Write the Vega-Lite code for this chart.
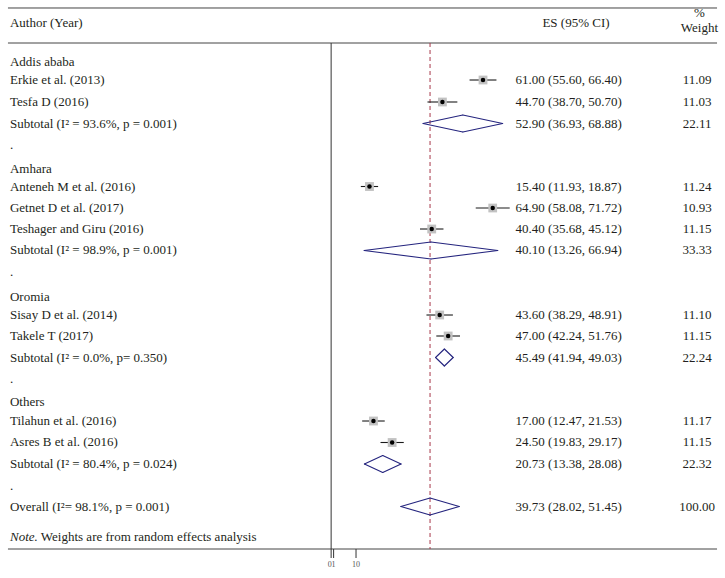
{
  "$schema": "https://vega.github.io/schema/vega-lite/v6.json",
  "autosize": {"type": "fit", "contains": "padding"},
  "width": 725,
  "height": 578,
  "padding": 0,
  "background": "white",
  "config": {"view": {"stroke": null}, "text": {"font": "Liberation Serif", "fontSize": 13, "color": "#231f20"}},
  "datasets": {
    "rows": [
      {"label": "Addis ababa", "row": 2.876, "type": "group"},
      {"label": "Erkie et al. (2013)", "row": 3.682, "type": "study", "es": 61.00, "lo": 55.60, "hi": 66.40, "w": 11.09, "ci": "61.00 (55.60, 66.40)"},
      {"label": "Tesfa D (2016)", "row": 4.694, "type": "study", "es": 44.70, "lo": 38.70, "hi": 50.70, "w": 11.03, "ci": "44.70 (38.70, 50.70)"},
      {"label": "Subtotal (I² = 93.6%, p = 0.001)", "row": 5.684, "type": "subtotal", "es": 52.90, "lo": 36.93, "hi": 68.88, "w": 22.11, "ci": "52.90 (36.93, 68.88)"},
      {"label": ".", "row": 6.673, "type": "gap"},
      {"label": "Amhara", "row": 7.755, "type": "group"},
      {"label": "Anteneh M et al. (2016)", "row": 8.583, "type": "study", "es": 15.40, "lo": 11.93, "hi": 18.87, "w": 11.24, "ci": "15.40 (11.93, 18.87)"},
      {"label": "Getnet D et al. (2017)", "row": 9.573, "type": "study", "es": 64.90, "lo": 58.08, "hi": 71.72, "w": 10.93, "ci": "64.90 (58.08, 71.72)"},
      {"label": "Teshager and Giru (2016)", "row": 10.539, "type": "study", "es": 40.40, "lo": 35.68, "hi": 45.12, "w": 11.15, "ci": "40.40 (35.68, 45.12)"},
      {"label": "Subtotal (I² = 98.9%, p = 0.001)", "row": 11.528, "type": "subtotal", "es": 40.10, "lo": 13.26, "hi": 66.94, "w": 33.33, "ci": "40.10 (13.26, 66.94)"},
      {"label": ".", "row": 12.518, "type": "gap"},
      {"label": "Oromia", "row": 13.691, "type": "group"},
      {"label": "Sisay D et al. (2014)", "row": 14.497, "type": "study", "es": 43.60, "lo": 38.29, "hi": 48.91, "w": 11.10, "ci": "43.60 (38.29, 48.91)"},
      {"label": "Takele T (2017)", "row": 15.463, "type": "study", "es": 47.00, "lo": 42.24, "hi": 51.76, "w": 11.15, "ci": "47.00 (42.24, 51.76)"},
      {"label": "Subtotal (I² = 0.0%, p= 0.350)", "row": 16.453, "type": "subtotal", "es": 45.49, "lo": 41.94, "hi": 49.03, "w": 22.24, "ci": "45.49 (41.94, 49.03)"},
      {"label": ".", "row": 17.442, "type": "gap"},
      {"label": "Others", "row": 18.501, "type": "group"},
      {"label": "Tilahun et al. (2016)", "row": 19.375, "type": "study", "es": 17.00, "lo": 12.47, "hi": 21.53, "w": 11.17, "ci": "17.00 (12.47, 21.53)"},
      {"label": "Asres B et al. (2016)", "row": 20.364, "type": "study", "es": 24.50, "lo": 19.83, "hi": 29.17, "w": 11.15, "ci": "24.50 (19.83, 29.17)"},
      {"label": "Subtotal (I² = 80.4%, p = 0.024)", "row": 21.354, "type": "subtotal", "es": 20.73, "lo": 13.38, "hi": 28.08, "w": 22.32, "ci": "20.73 (13.38, 28.08)"},
      {"label": ".", "row": 22.366, "type": "gap"},
      {"label": "Overall (I²= 98.1%, p = 0.001)", "row": 23.310, "type": "overall", "es": 39.73, "lo": 28.02, "hi": 51.45, "w": 100.00, "ci": "39.73 (28.02, 51.45)"}
    ],
    "headers": [
      {"text": "ES (95% CI)", "x": 98.35, "row": 1.058},
      {"text": "%", "x": 147.95, "row": 0.6},
      {"text": "Weight", "x": 147.95, "row": 1.275}
    ],
    "hlines": [{"row": 0.368}, {"row": 1.979}, {"row": 25.266}],
    "vlines": [
      {"x": 0, "y1": 1.979, "y2": 25.68},
      {"x": 1, "y1": 25.266, "y2": 25.68},
      {"x": 10, "y1": 25.266, "y2": 25.68}
    ],
    "ticklabels": [
      {"tick": 0, "text": "0"},
      {"tick": 1, "text": "1"},
      {"tick": 10, "text": "10"}
    ]
  },
  "layer": [
    {
      "data": {"name": "hlines"},
      "mark": {"type": "rule", "color": "#444", "strokeWidth": 1},
      "encoding": {
        "x": {"datum": -129.8, "type": "quantitative", "scale": {"domain": [-133, 158.2], "nice": false, "zero": false}, "axis": null},
        "x2": {"datum": 155.0},
        "y": {"field": "row", "type": "quantitative", "scale": {"domain": [0, 26.6], "nice": false, "zero": false, "reverse": true}, "axis": null}
      }
    },
    {
      "data": {"name": "vlines"},
      "mark": {"type": "rule", "color": "#333", "strokeWidth": 1},
      "encoding": {
        "x": {"field": "x", "type": "quantitative", "axis": null},
        "y": {"field": "y1", "type": "quantitative", "axis": null},
        "y2": {"field": "y2"}
      }
    },
    {
      "data": {"name": "rows"},
      "transform": [{"filter": "datum.type === 'overall'"}],
      "mark": {"type": "rule", "color": "#a8384a", "strokeWidth": 1, "strokeDash": [4, 3]},
      "encoding": {
        "x": {"field": "es", "type": "quantitative", "axis": null},
        "y": {"datum": 1.979, "type": "quantitative", "axis": null},
        "y2": {"datum": 25.266}
      }
    },
    {
      "data": {"name": "rows"},
      "transform": [{"filter": "datum.type === 'study'"}],
      "mark": {"type": "rule", "color": "#1a1a1a", "strokeWidth": 1.1},
      "encoding": {
        "x": {"field": "lo", "type": "quantitative", "axis": null},
        "x2": {"field": "hi"},
        "y": {"field": "row", "type": "quantitative", "axis": null}
      }
    },
    {
      "data": {"name": "rows"},
      "transform": [{"filter": "datum.type === 'study'"}],
      "mark": {"type": "point", "shape": "square", "filled": true, "color": "#c2c2c2", "opacity": 1},
      "encoding": {
        "x": {"field": "es", "type": "quantitative", "axis": null},
        "y": {"field": "row", "type": "quantitative", "axis": null},
        "size": {"field": "w", "type": "quantitative", "scale": {"domain": [0, 12], "range": [0, 84]}, "legend": null}
      }
    },
    {
      "data": {"name": "rows"},
      "transform": [{"filter": "datum.type === 'study'"}],
      "mark": {"type": "point", "shape": "circle", "filled": true, "color": "#000", "size": 20, "opacity": 1},
      "encoding": {
        "x": {"field": "es", "type": "quantitative", "axis": null},
        "y": {"field": "row", "type": "quantitative", "axis": null}
      }
    },
    {
      "data": {"name": "rows"},
      "transform": [{"filter": "datum.type === 'subtotal' || datum.type === 'overall'"}],
      "mark": {"type": "rule", "color": "#24247e", "strokeWidth": 1.1, "strokeCap": "round", "y2Offset": -8.5},
      "encoding": {
        "x": {"field": "lo", "type": "quantitative", "axis": null},
        "x2": {"field": "es"},
        "y": {"field": "row", "type": "quantitative", "axis": null},
        "y2": {"field": "row"}
      }
    },
    {
      "data": {"name": "rows"},
      "transform": [{"filter": "datum.type === 'subtotal' || datum.type === 'overall'"}],
      "mark": {"type": "rule", "color": "#24247e", "strokeWidth": 1.1, "strokeCap": "round", "yOffset": -8.5},
      "encoding": {
        "x": {"field": "es", "type": "quantitative", "axis": null},
        "x2": {"field": "hi"},
        "y": {"field": "row", "type": "quantitative", "axis": null},
        "y2": {"field": "row"}
      }
    },
    {
      "data": {"name": "rows"},
      "transform": [{"filter": "datum.type === 'subtotal' || datum.type === 'overall'"}],
      "mark": {"type": "rule", "color": "#24247e", "strokeWidth": 1.1, "strokeCap": "round", "y2Offset": 8.5},
      "encoding": {
        "x": {"field": "hi", "type": "quantitative", "axis": null},
        "x2": {"field": "es"},
        "y": {"field": "row", "type": "quantitative", "axis": null},
        "y2": {"field": "row"}
      }
    },
    {
      "data": {"name": "rows"},
      "transform": [{"filter": "datum.type === 'subtotal' || datum.type === 'overall'"}],
      "mark": {"type": "rule", "color": "#24247e", "strokeWidth": 1.1, "strokeCap": "round", "yOffset": 8.5},
      "encoding": {
        "x": {"field": "es", "type": "quantitative", "axis": null},
        "x2": {"field": "lo"},
        "y": {"field": "row", "type": "quantitative", "axis": null},
        "y2": {"field": "row"}
      }
    },
    {
      "data": {"name": "rows"},
      "mark": {"type": "text", "align": "left", "baseline": "middle"},
      "encoding": {
        "x": {"datum": -129, "type": "quantitative", "axis": null},
        "y": {"field": "row", "type": "quantitative", "axis": null},
        "text": {"field": "label"}
      }
    },
    {
      "data": {"values": [{"text": "Author (Year)", "row": 1.058}]},
      "mark": {"type": "text", "align": "left", "baseline": "middle"},
      "encoding": {
        "x": {"datum": -129, "type": "quantitative", "axis": null},
        "y": {"field": "row", "type": "quantitative", "axis": null},
        "text": {"field": "text"}
      }
    },
    {
      "data": {"values": [{"text": "Note.", "row": 24.714}]},
      "mark": {"type": "text", "align": "left", "baseline": "middle", "fontStyle": "italic"},
      "encoding": {
        "x": {"datum": -129, "type": "quantitative", "axis": null},
        "y": {"field": "row", "type": "quantitative", "axis": null},
        "text": {"field": "text"}
      }
    },
    {
      "data": {"values": [{"text": "Weights are from random effects analysis", "row": 24.714}]},
      "mark": {"type": "text", "align": "left", "baseline": "middle"},
      "encoding": {
        "x": {"datum": -116.6, "type": "quantitative", "axis": null},
        "y": {"field": "row", "type": "quantitative", "axis": null},
        "text": {"field": "text"}
      }
    },
    {
      "data": {"name": "rows"},
      "transform": [{"filter": "isValid(datum.ci)"}],
      "mark": {"type": "text", "align": "center", "baseline": "middle"},
      "encoding": {
        "x": {"datum": 95.4, "type": "quantitative", "axis": null},
        "y": {"field": "row", "type": "quantitative", "axis": null},
        "text": {"field": "ci"}
      }
    },
    {
      "data": {"name": "rows"},
      "transform": [{"filter": "isValid(datum.w)"}],
      "mark": {"type": "text", "align": "center", "baseline": "middle"},
      "encoding": {
        "x": {"datum": 147, "type": "quantitative", "axis": null},
        "y": {"field": "row", "type": "quantitative", "axis": null},
        "text": {"field": "w", "type": "quantitative", "format": ".2f"}
      }
    },
    {
      "data": {"name": "headers"},
      "mark": {"type": "text", "align": "center", "baseline": "middle"},
      "encoding": {
        "x": {"field": "x", "type": "quantitative", "axis": null},
        "y": {"field": "row", "type": "quantitative", "axis": null},
        "text": {"field": "text"}
      }
    },
    {
      "data": {"name": "ticklabels"},
      "transform": [{"filter": "datum.tick === 0"}],
      "mark": {"type": "text", "align": "right", "baseline": "middle", "fontSize": 8, "color": "#555", "dx": 0.5},
      "encoding": {
        "x": {"field": "tick", "type": "quantitative", "axis": null},
        "y": {"datum": 26.0, "type": "quantitative", "axis": null},
        "text": {"field": "text"}
      }
    },
    {
      "data": {"name": "ticklabels"},
      "transform": [{"filter": "datum.tick !== 0"}],
      "mark": {"type": "text", "align": "center", "baseline": "middle", "fontSize": 8, "color": "#555"},
      "encoding": {
        "x": {"field": "tick", "type": "quantitative", "axis": null},
        "y": {"datum": 26.0, "type": "quantitative", "axis": null},
        "text": {"field": "text"}
      }
    }
  ]
}
